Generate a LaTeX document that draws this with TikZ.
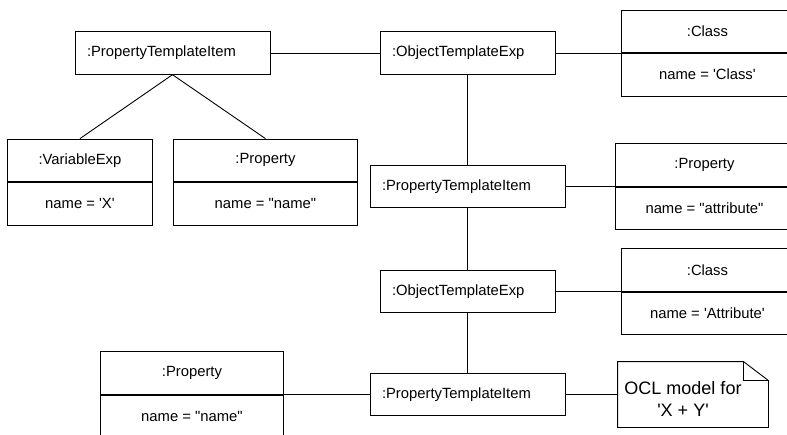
\documentclass[tikz,border=0pt]{standalone}
\usepackage{fontspec}
\setmainfont{Liberation Sans}
\usetikzlibrary{positioning}

\newcommand{\sq}{\textquotesingle}
\newcommand{\dq}{\textquotedbl}

\tikzset{
    obj/.style={draw, minimum height=42.5pt, inner xsep=12pt, inner ysep=0pt, align=left},
    part/.style={draw, minimum height=42.5pt, inner sep=0pt, anchor=south west},
    slot/.style={draw, minimum height=42.5pt, inner sep=0pt, below=0pt of #1}
}

\begin{document}
\begin{tikzpicture}[x=1pt, y=-1pt, line width=0.9pt,
        every node/.style={font=\fontsize{14.8pt}{18pt}\selectfont}]
                \clip (0,0) rectangle (787,434);
                \node [obj, text width=171pt] (pti1) at (172.5,53) {:PropertyTemplateItem};
                \node [obj, text width=151pt] (ote1) at (467.5,53) {:ObjectTemplateExp};
                \node [obj, text width=171pt] (pti2) at (467.5,186.5) {:PropertyTemplateItem};
                \node [obj, text width=151pt] (ote2) at (467.5,291.5) {:ObjectTemplateExp};
                \node [obj, text width=171pt] (pti3) at (467.5,394.5) {:PropertyTemplateItem};
                \node [part, minimum width=145pt] (var) at (7,182) {:VariableExp};
                \node [slot=var, minimum width=145pt] (vara) {name = \sq X\sq};
                \node [part, minimum width=184pt] (prop) at (173,182) {:Property};
                \node [slot=prop, minimum width=184pt] (propa) {name = \dq name\dq};
                \node [part, minimum width=172pt] (cls1) at (621,53) {:Class};
                \node [slot=cls1, minimum width=172pt] (cls1a) {name = \sq Class\sq};
                \node [part, minimum width=178pt] (prop2) at (615,186.5) {:Property};
                \node [slot=prop2, minimum width=178pt] (prop2a) {name = \dq attribute\dq};
                \node [part, minimum width=172pt] (cls2) at (621,291.5) {:Class};
                \node [slot=cls2, minimum width=172pt] (cls2a) {name = \sq Attribute\sq};
                \node [part, minimum width=183pt] (prop3) at (100,394.5) {:Property};
                \node [slot=prop3, minimum width=183pt] (prop3a) {name = \dq name\dq};
                \node [minimum width=150pt, minimum height=65pt] (note) at (693,394.5) {};
                \node [align=center, font=\fontsize{18pt}{22pt}\selectfont] (notetext)
                    at ([xshift=-10pt,yshift=-4pt]note.center) {OCL model for\\\sq X + Y\sq};
                \draw (note.north west) -- ([xshift=-25pt]note.north east) -- ([yshift=-19pt]note.north east)
                    -- (note.south east) -- (note.south west) -- cycle;
                \draw ([xshift=-25pt]note.north east) -- ([xshift=-25pt,yshift=-19pt]note.north east)
                    -- ([yshift=-19pt]note.north east);
                \draw (pti1) -- (ote1);
                \draw (pti1.south) -- (var.north);
                \draw (pti1.south) -- (prop.north);
                \draw (ote1) -- (cls1.south west);
                \draw (ote1) -- (pti2);
                \draw (pti2) -- (prop2.south west);
                \draw (pti2) -- (ote2);
                \draw (ote2) -- (cls2.south west);
                \draw (ote2) -- (pti3);
                \draw (pti3) -- (note);
                \draw (prop3.south east) -- (pti3);
            \end{tikzpicture}
\end{document}
